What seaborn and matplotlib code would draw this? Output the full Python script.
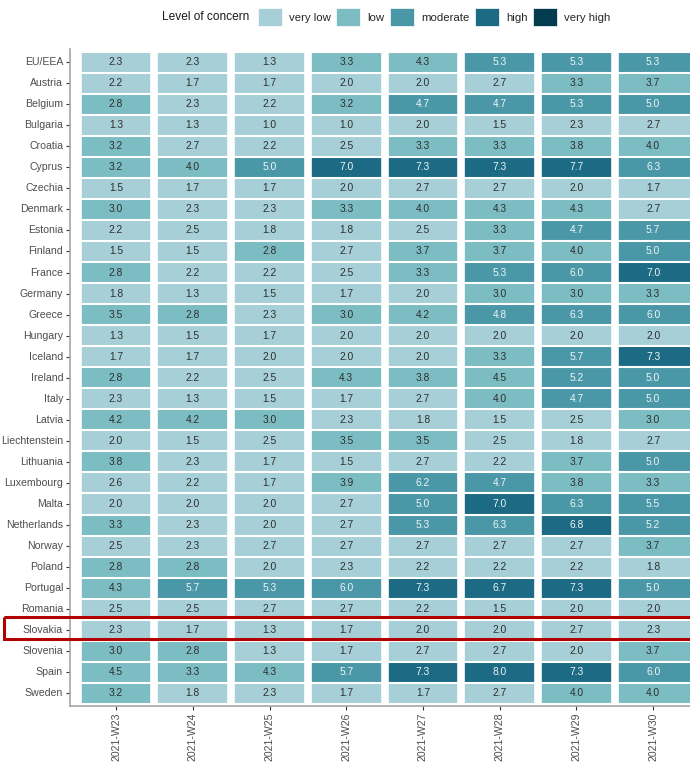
import numpy as np
import pandas as pd
import matplotlib
matplotlib.use("Agg")
import matplotlib.pyplot as plt
import seaborn as sns
from matplotlib.colors import ListedColormap, to_rgb
from matplotlib.patches import Patch, Rectangle
from matplotlib.transforms import blended_transform_factory

countries = ["EU/EEA", "Austria", "Belgium", "Bulgaria", "Croatia", "Cyprus", "Czechia",
             "Denmark", "Estonia", "Finland", "France", "Germany", "Greece", "Hungary",
             "Iceland", "Ireland", "Italy", "Latvia", "Liechtenstein", "Lithuania",
             "Luxembourg", "Malta", "Netherlands", "Norway", "Poland", "Portugal",
             "Romania", "Slovakia", "Slovenia", "Spain", "Sweden"]
weeks = ["2021-W23", "2021-W24", "2021-W25", "2021-W26",
         "2021-W27", "2021-W28", "2021-W29", "2021-W30"]

w23 = [2.3, 2.2, 2.8, 1.3, 3.2, 3.2, 1.5, 3.0, 2.2, 1.5, 2.8, 1.8, 3.5, 1.3, 1.7, 2.8,
       2.3, 4.2, 2.0, 3.8, 2.6, 2.0, 3.3, 2.5, 2.8, 4.3, 2.5, 2.3, 3.0, 4.5, 3.2]
w24 = [2.3, 1.7, 2.3, 1.3, 2.7, 4.0, 1.7, 2.3, 2.5, 1.5, 2.2, 1.3, 2.8, 1.5, 1.7, 2.2,
       1.3, 4.2, 1.5, 2.3, 2.2, 2.0, 2.3, 2.3, 2.8, 5.7, 2.5, 1.7, 2.8, 3.3, 1.8]
w25 = [1.3, 1.7, 2.2, 1.0, 2.2, 5.0, 1.7, 2.3, 1.8, 2.8, 2.2, 1.5, 2.3, 1.7, 2.0, 2.5,
       1.5, 3.0, 2.5, 1.7, 1.7, 2.0, 2.0, 2.7, 2.0, 5.3, 2.7, 1.3, 1.3, 4.3, 2.3]
w26 = [3.3, 2.0, 3.2, 1.0, 2.5, 7.0, 2.0, 3.3, 1.8, 2.7, 2.5, 1.7, 3.0, 2.0, 2.0, 4.3,
       1.7, 2.3, 3.5, 1.5, 3.9, 2.7, 2.7, 2.7, 2.3, 6.0, 2.7, 1.7, 1.7, 5.7, 1.7]
w27 = [4.3, 2.0, 4.7, 2.0, 3.3, 7.3, 2.7, 4.0, 2.5, 3.7, 3.3, 2.0, 4.2, 2.0, 2.0, 3.8,
       2.7, 1.8, 3.5, 2.7, 6.2, 5.0, 5.3, 2.7, 2.2, 7.3, 2.2, 2.0, 2.7, 7.3, 1.7]
w28 = [5.3, 2.7, 4.7, 1.5, 3.3, 7.3, 2.7, 4.3, 3.3, 3.7, 5.3, 3.0, 4.8, 2.0, 3.3, 4.5,
       4.0, 1.5, 2.5, 2.2, 4.7, 7.0, 6.3, 2.7, 2.2, 6.7, 1.5, 2.0, 2.7, 8.0, 2.7]
w29 = [5.3, 3.3, 5.3, 2.3, 3.8, 7.7, 2.0, 4.3, 4.7, 4.0, 6.0, 3.0, 6.3, 2.0, 5.7, 5.2,
       4.7, 2.5, 1.8, 3.7, 3.8, 6.3, 6.8, 2.7, 2.2, 7.3, 2.0, 2.7, 2.0, 7.3, 4.0]
w30 = [5.3, 3.7, 5.0, 2.7, 4.0, 6.3, 1.7, 2.7, 5.7, 5.0, 7.0, 3.3, 6.0, 2.0, 7.3, 5.0,
       5.0, 3.0, 2.7, 5.0, 3.3, 5.5, 5.2, 3.7, 1.8, 5.0, 2.0, 2.3, 3.7, 6.0, 4.0]

levels = ["very low", "low", "moderate", "high", "very high"]
level_breaks = [2.75, 4.6, 6.5, 8.5]
level_colors = ["#a7cfd7", "#7cbdc3", "#4a97a8", "#1c6a84", "#033b4f"]
highlight = "Slovakia"

sns.set_theme(style="white")
plt.rcParams["font.family"] = ["Liberation Sans", "DejaVu Sans"]

scores = pd.DataFrame(dict(zip(weeks, [w23, w24, w25, w26, w27, w28, w29, w30])),
                      index=countries)
codes = pd.DataFrame(np.digitize(scores.values, level_breaks),
                     index=scores.index, columns=scores.columns)

fig = plt.figure(figsize=(6.9, 7.63), dpi=100)
ax = fig.add_axes([70 / 690, 1 - 706 / 763, 1 - 70 / 690, (706 - 49.5) / 763])

sns.heatmap(codes, cmap=ListedColormap(level_colors), vmin=-0.5, vmax=4.5,
            annot=scores, fmt=".1f", cbar=False, ax=ax,
            annot_kws={"fontsize": 7.4})

# seaborn picks ".15" or "w" per cell; swap in slightly softer tones
for t in ax.texts:
    dark = to_rgb(t.get_color())[0] < 0.5
    t.set_color("#2e2e2e" if dark else "#eef5f6")

# white gaps between tiles (tiles are ~90% of a cell)
for i in range(len(weeks) + 1):
    ax.axvline(i, color="white", lw=5.5)
for j in range(len(countries) + 1):
    ax.axhline(j, color="white", lw=1.5)

ax.set_xlim(-0.1, 7.98)
ax.set_ylim(len(countries) + 0.1, -0.1)
ax.set_xlabel("")
ax.set_ylabel("")

for side in ["left", "bottom"]:
    ax.spines[side].set_visible(True)
    ax.spines[side].set_color("#a6a6a6")
    ax.spines[side].set_linewidth(1.2)
for side in ["top", "right"]:
    ax.spines[side].set_visible(False)

ax.tick_params(axis="both", bottom=True, left=True, length=3, width=0.8,
               color="#333333", labelcolor="#4d4d4d", labelsize=7.6, pad=2)
ax.set_xticklabels(weeks, rotation=90)
ax.set_yticklabels(countries, rotation=0)

# red box round the highlighted country
row = countries.index(highlight)
trans = blended_transform_factory(fig.transFigure, ax.transData)
ax.add_patch(Rectangle((0.006, row - 0.12), 1.0, 1.05, transform=trans,
                       fill=False, edgecolor="#b30000", lw=2.2, clip_on=False,
                       zorder=10))

# legend along the top
fig.text(162 / 690, 1 - 17 / 763, "Level of concern", fontsize=8.6,
         color="#1a1a1a", va="center", ha="left")
handles = [Patch(facecolor=c, edgecolor="white", lw=0.5) for c in level_colors]
fig.legend(handles, levels, loc="center left", bbox_to_anchor=(258 / 690, 1 - 17 / 763),
           ncol=5, frameon=False, fontsize=8.2, borderpad=0, borderaxespad=0,
           handlelength=2.1, handleheight=2.1, handletextpad=0.65, columnspacing=0.45)

fig.savefig("out.png", dpi=100)
